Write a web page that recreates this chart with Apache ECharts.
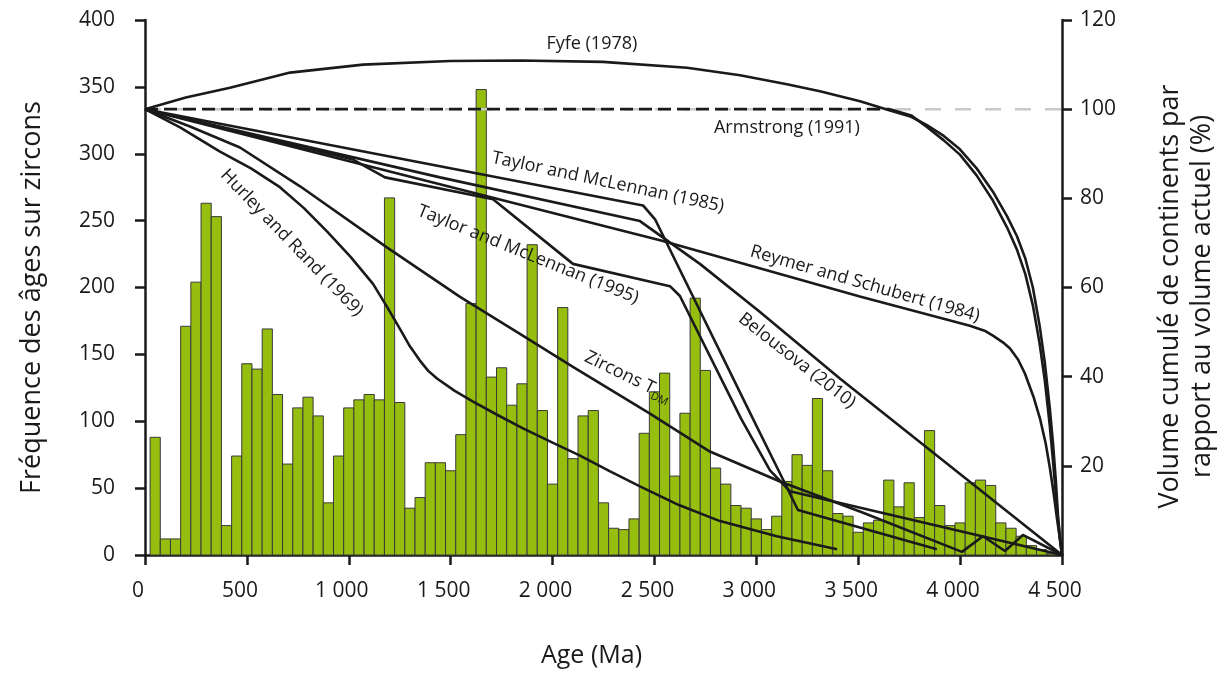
<!DOCTYPE html>
<html><head><meta charset="utf-8">
<script src="https://cdn.jsdelivr.net/npm/echarts@6/dist/echarts.min.js"></script>
<style>html,body{margin:0;padding:0;background:#fff}#c{width:1226px;height:673px}</style>
</head><body><div id="c"></div>
<script>
// ---- DATA ----
const binCenters = [50,100,150,200,250,300,350,400,450,500,550,600,650,700,750,800,850,900,950,1000,
1050,1100,1150,1200,1250,1300,1350,1400,1450,1500,1550,1600,1650,1700,1750,1800,1850,1900,1950,2000,
2050,2100,2150,2200,2250,2300,2350,2400,2450,2500,2550,2600,2650,2700,2750,2800,2850,2900,2950,3000,
3050,3100,3150,3200,3250,3300,3350,3400,3450,3500,3550,3600,3650,3700,3750,3800,3850,3900,3950,4000,
4050,4100,4150,4200,4250,4300,4350,4400,4450];
const zirconCounts = [88,12,12,171,204,263,253,22,74,143,139,169,120,68,110,118,104,39,74,110,
116,120,116,267,114,35,43,69,69,63,90,188,348,133,140,112,128,232,108,53,
185,72,104,108,39,20,19,27,91,122,136,59,106,192,138,65,53,37,35,27,
19,29,55,75,67,117,63,31,29,17,24,26,56,36,54,28,93,37,22,24,
54,56,52,24,20,14,7,4,1];
const xTicks = [0,500,1000,1500,2000,2500,3000,3500,4000,4500];
const referenceLevel = [[0,100],[4500,100]];
const fyfe = [[0,100],[200,102.6],[417,104.8],[712,108.2],[1070,110.0],[1497,110.8],[1840,110.9],[2247,110.6],[2660,109.3],[2920,107.6],[3150,105.6],[3312,104.0],[3509,101.8],[3656,99.7],[3760,98.3],[3837,96.4],[3920,94.0],[3999,91.0],[4080,86.8],[4161,81.5],[4230,76.0],[4279,71.5],[4320,66.5],[4357,60.0],[4390,51.5],[4416,43.0],[4440,33.0],[4456,25.0],[4470,16.5],[4480,9.0],[4490,4.0],[4500,0]];
const armstrongFlat = [[0,100],[3656,100]];
const armstrongDrop = [[3656,100],[3760,98.6],[3837,96.0],[3920,93.0],[3999,89.8],[4080,85.2],[4161,79.5],[4230,73.5],[4279,68.5],[4320,63.0],[4357,56.0],[4390,47.5],[4416,39.0],[4440,29.0],[4456,21.0],[4470,13.5],[4480,8.0],[4490,3.5],[4500,0]];
const reymer = [[0,100],[2537,70.5],[3508,58.0],[4048,51.4],[4120,50.3],[4161,49.2],[4210,47.7],[4245,46.3],[4285,43.8],[4318,40.7],[4360,35.5],[4392,30.6],[4420,25.0],[4441,19.4],[4460,13.5],[4475,8.3],[4490,3.5],[4500,0]];
const taylor1985 = [[0,100],[2444,78.4],[2503,75.3],[2983,30.6],[3140,16.1],[3204,10.1],[3886,1.3]];
const taylor1995 = [[0,100],[1021,88.7],[1178,84.7],[1708,79.8],[2100,65.3],[2576,60.3],[2625,58.1],[2925,30.6],[3067,19.0],[3165,14.3],[4500,0]];
const belousova = [[0,100],[1448,84.7],[2429,74.9],[2723,65.3],[3018,54.5],[3410,39.6],[4500,0]];
const zirconsTdm = [[0,100],[221,96.1],[466,91.4],[761,82.7],[1187,69.0],[1546,57.9],[1840,49.6],[2100,42.2],[2478,31.7],[2772,23.2],[3116,16.5],[3518,9.6],[4009,0.7],[4112,4.2],[4220,0.9],[4308,4.5],[4500,0]];
const hurley = [[0,100],[172,95.9],[368,90.5],[520,86.7],[662,82.5],[780,77.8],[893,72.6],[1010,66.8],[1119,60.8],[1190,55.5],[1251,50.7],[1300,46.8],[1349,43.6],[1390,41.3],[1433,39.6],[1520,36.8],[1610,34.4],[1730,31.4],[1855,28.4],[2000,25.2],[2135,22.3],[2280,18.8],[2429,15.4],[2620,11.2],[2822,7.6],[3100,4.2],[3396,1.3]];

// ---- annotations (data coords) ----
const notes = {
  fyfe: {at:[2193,114.6], rot:0, text:'Fyfe (1978)'},
  armstrong: {at:[3150,95.9], rot:0, text:'Armstrong (1991)'},
  taylor1985: {at:[2272,83.6], rot:-12, text:'Taylor and McLennan (1985)'},
  reymer: {at:[3533,60.8], rot:-16, text:'Reymer and Schubert (1984)'},
  taylor1995: {at:[1880,67.4], rot:-22, text:'Taylor and McLennan (1995)'},
  belousova: {at:[3199,43.6], rot:-38, text:'Belousova (2010)'},
  hurley: {at:[720,70.0], rot:-46, text:'Hurley and Rand (1969)'},
  zircons: {at:[2370,40.0], rot:-26, text:'{a|Zircons T}{b|DM}'}
};

const FONT = 'Open Sans';
const INK = '#1a1a1a';
const BIN = 50;

function mark(n){
  return {
    symbol:'circle', symbolSize:1, silent:true,
    itemStyle:{color:'rgba(0,0,0,0)'},
    data:[{coord:n.at, value:0}],
    label:{show:true, position:'inside', formatter:n.text, rotate:n.rot,
      color:INK, fontFamily:FONT, fontSize:18,
      rich:{a:{fontFamily:FONT,fontSize:18,color:INK,lineHeight:24},
            b:{fontFamily:FONT,fontSize:11,color:INK,lineHeight:24,verticalAlign:'bottom',padding:[14,0,0,0]}}}
  };
}
function lineSeries(name, data, note, extra){
  return Object.assign({
    name, type:'line', xAxisIndex:0, yAxisIndex:1, data,
    symbol:'none', z:5, animation:false,
    lineStyle:{color:INK, width:2.6},
    markPoint: note ? mark(note) : undefined
  }, extra||{});
}

const chart = echarts.init(document.getElementById('c'), null, {renderer:'canvas'});
const fmtK = v => v >= 1000 ? String(v).replace(/(\d)(\d{3})$/, '$1 $2') : String(v);

chart.setOption({
  animation:false,
  backgroundColor:'#fff',
  grid:{left:145, right:164, top:20, bottom:116},
  xAxis:[{
    type:'value', min:0, max:4500, interval:500,
    axisLine:{show:true, lineStyle:{color:INK, width:2.5}},
    axisTick:{show:true, length:10, lineStyle:{color:INK, width:2.5}},
    axisLabel:{fontFamily:FONT, fontSize:21, color:INK, margin:26, formatter:fmtK, padding:[0,14,0,0]},
    splitLine:{show:false},
    name:'Age (Ma)', nameLocation:'middle', nameGap:88,
    nameTextStyle:{fontFamily:FONT, fontSize:25, color:INK, padding:[0,24,0,0]}
  }],
  yAxis:[{
    type:'value', min:0, max:400, interval:50, position:'left',
    axisLine:{show:true, lineStyle:{color:INK, width:2.5}},
    axisTick:{show:true, length:10, lineStyle:{color:INK, width:2.5}},
    axisLabel:{fontFamily:FONT, fontSize:21, color:INK, margin:30},
    splitLine:{show:false},
    name:'Fréquence des âges sur zircons', nameLocation:'middle', nameGap:99,
    nameTextStyle:{fontFamily:FONT, fontSize:27, color:INK, padding:[0,20,0,0]}
  },{
    type:'value', min:0, max:120, interval:20, position:'right',
    axisLine:{show:true, lineStyle:{color:INK, width:2.5}},
    axisTick:{show:true, length:10, lineStyle:{color:INK, width:2.5}},
    axisLabel:{fontFamily:FONT, fontSize:21, color:INK, margin:18, showMinLabel:false},
    splitLine:{show:false},
    name:'Volume cumulé de continents par\nrapport au volume actuel (%)', nameLocation:'middle', nameGap:92, nameRotate:90,
    nameTextStyle:{fontFamily:FONT, fontSize:27, color:INK, lineHeight:32, align:'center', padding:[0,18,0,0]}
  }],
  series:[
    {type:'custom', name:'Zircons', xAxisIndex:0, yAxisIndex:0, z:2,
     data: binCenters.map((c,i)=>[c, zirconCounts[i]]),
     encode:{x:0, y:1},
     renderItem:(params, api) => {
       const c = api.value(0), v = api.value(1);
       const p0 = api.coord([c - BIN/2, v]);
       const p1 = api.coord([c + BIN/2, 0]);
       return {type:'rect', shape:{x:p0[0], y:p0[1], width:p1[0]-p0[0], height:p1[1]-p0[1]},
               style:{fill:'#95BE0F', stroke:'#3a3a3a', lineWidth:1}};
     }},
    lineSeries('Référence', referenceLevel, null, {lineStyle:{color:'#c9c9c9', width:2.5, type:[16,14]}, z:3}),
    lineSeries('Armstrong (1991)', armstrongFlat, notes.armstrong, {lineStyle:{color:INK, width:2.6, type:[13,6]}}),
    lineSeries('Armstrong (1991)', armstrongDrop, null),
    lineSeries('Fyfe (1978)', fyfe, notes.fyfe),
    lineSeries('Reymer and Schubert (1984)', reymer, notes.reymer),
    lineSeries('Taylor and McLennan (1985)', taylor1985, notes.taylor1985),
    lineSeries('Taylor and McLennan (1995)', taylor1995, notes.taylor1995),
    lineSeries('Belousova (2010)', belousova, notes.belousova),
    lineSeries('Zircons TDM', zirconsTdm, notes.zircons),
    lineSeries('Hurley and Rand (1969)', hurley, notes.hurley)
  ]
});
</script></body></html>
